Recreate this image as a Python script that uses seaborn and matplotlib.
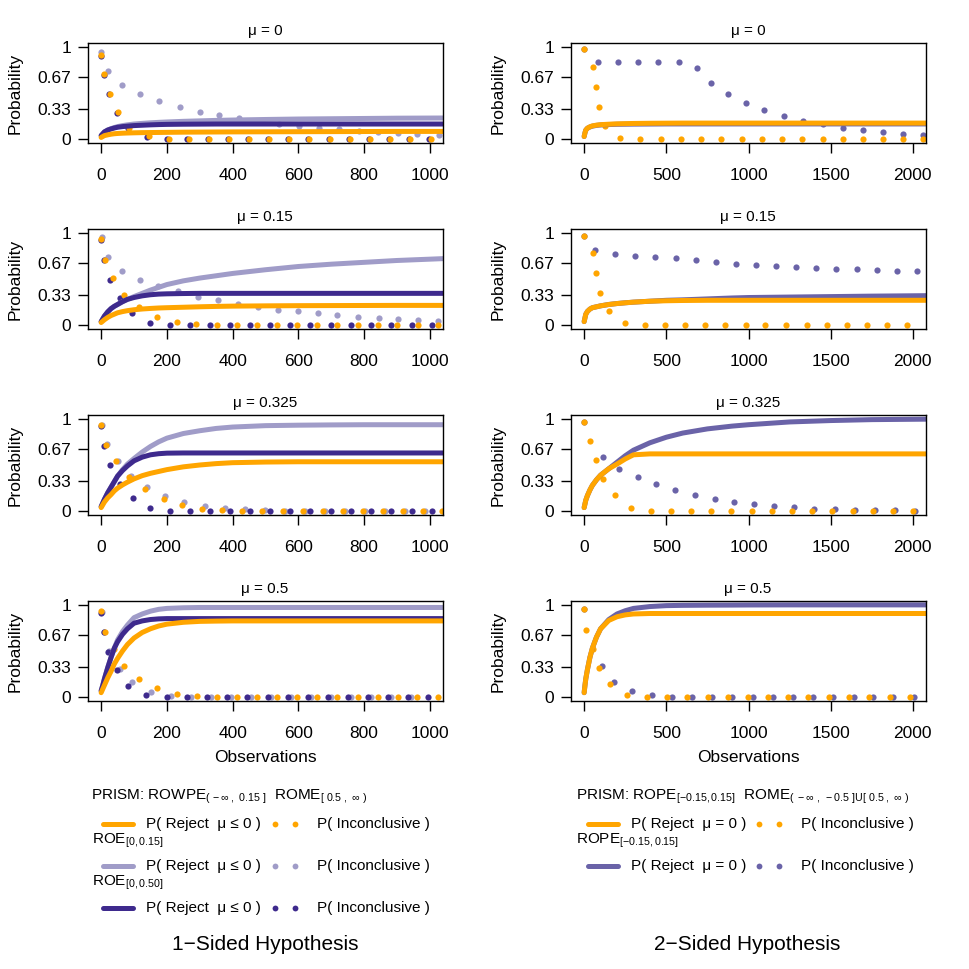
import seaborn as sns
import matplotlib
matplotlib.use("Agg")
import matplotlib.pyplot as plt
from matplotlib.lines import Line2D

W, H = 969, 969

mu_titles = ["μ = 0", "μ = 0.15", "μ = 0.325", "μ = 0.5"]
ticks_one = [0, 200, 400, 600, 800, 1000]
ticks_two = [0, 500, 1000, 1500, 2000]
ticks_y = [0, 0.33, 0.67, 1]
ticks_y_lab = ["0", "0.33", "0.67", "1"]

# ---------------- 1-sided: P( Reject ) curves ----------------
line1_x = [0, 5, 10, 20, 30, 40, 50, 65, 80, 100, 125, 150, 175, 200, 250, 300, 350, 400, 500, 600, 700, 800, 900, 1040]
one_orange_rej = [
    [0.02, 0.03, 0.04, 0.048, 0.055, 0.06, 0.063, 0.066, 0.068, 0.07, 0.072, 0.073, 0.074, 0.075,
     0.077, 0.078, 0.079, 0.08, 0.081, 0.082, 0.083, 0.084, 0.085, 0.085],
    [0.03, 0.045, 0.06, 0.085, 0.105, 0.12, 0.135, 0.148, 0.158, 0.168, 0.176, 0.182, 0.187, 0.19,
     0.195, 0.20, 0.204, 0.207, 0.21, 0.212, 0.213, 0.214, 0.215, 0.215],
    [0.04, 0.07, 0.10, 0.145, 0.18, 0.22, 0.25, 0.285, 0.315, 0.35, 0.385, 0.41, 0.43, 0.45,
     0.48, 0.50, 0.515, 0.525, 0.532, 0.535, 0.535, 0.535, 0.535, 0.535],
    [0.05, 0.09, 0.13, 0.21, 0.28, 0.36, 0.42, 0.50, 0.57, 0.64, 0.70, 0.74, 0.77, 0.79,
     0.81, 0.82, 0.823, 0.825, 0.825, 0.825, 0.825, 0.825, 0.825, 0.825],
]
one_light_rej = [
    [0.04, 0.06, 0.08, 0.10, 0.115, 0.127, 0.137, 0.148, 0.156, 0.165, 0.172, 0.178, 0.183, 0.187,
     0.194, 0.199, 0.204, 0.208, 0.214, 0.219, 0.222, 0.225, 0.228, 0.23],
    [0.04, 0.07, 0.10, 0.145, 0.18, 0.205, 0.225, 0.255, 0.28, 0.31, 0.345, 0.38, 0.41, 0.44,
     0.48, 0.51, 0.535, 0.56, 0.60, 0.635, 0.66, 0.68, 0.70, 0.72],
    [0.05, 0.09, 0.13, 0.20, 0.26, 0.32, 0.38, 0.45, 0.51, 0.57, 0.64, 0.70, 0.75, 0.79,
     0.84, 0.87, 0.895, 0.91, 0.925, 0.93, 0.933, 0.935, 0.935, 0.935],
    [0.07, 0.13, 0.20, 0.32, 0.43, 0.53, 0.62, 0.71, 0.78, 0.86, 0.90, 0.93, 0.95, 0.96,
     0.967, 0.97, 0.97, 0.97, 0.97, 0.97, 0.97, 0.97, 0.97, 0.97],
]
one_dark_rej = [
    [0.04, 0.06, 0.08, 0.10, 0.112, 0.122, 0.13, 0.137, 0.142, 0.148, 0.152, 0.156, 0.159, 0.161,
     0.163, 0.164, 0.165, 0.165, 0.165, 0.165, 0.165, 0.165, 0.165, 0.165],
    [0.04, 0.07, 0.10, 0.145, 0.18, 0.205, 0.225, 0.255, 0.28, 0.30, 0.318, 0.33, 0.337, 0.34,
     0.343, 0.345, 0.345, 0.345, 0.345, 0.345, 0.345, 0.345, 0.345, 0.345],
    [0.05, 0.09, 0.13, 0.20, 0.26, 0.32, 0.38, 0.44, 0.49, 0.545, 0.585, 0.61, 0.622, 0.628,
     0.63, 0.63, 0.63, 0.63, 0.63, 0.63, 0.63, 0.63, 0.63, 0.63],
    [0.07, 0.13, 0.20, 0.32, 0.43, 0.53, 0.60, 0.68, 0.74, 0.80, 0.825, 0.84, 0.847, 0.85,
     0.85, 0.85, 0.85, 0.85, 0.85, 0.85, 0.85, 0.85, 0.85, 0.85],
]

# ---------------- 1-sided: P( Inconclusive ) points ----------------
one_dark_inc_x = [
    [0, 10, 25, 47, 83, 139, 200, 261, 324, 385, 446, 507, 568, 628, 694, 755, 815, 876, 937, 998],
    [0, 10, 27, 56, 94, 149, 210, 271, 331, 392, 453, 514, 575, 636, 699, 760, 821, 881, 945, 1006],
    [0, 10, 27, 56, 96, 149, 210, 271, 331, 392, 453, 514, 575, 636, 699, 760, 821, 883, 945, 1006],
    [0, 8, 22, 48, 81, 137, 200, 261, 322, 383, 444, 507, 568, 628, 689, 750, 811, 872, 932, 993],
]
one_dark_inc_y = [
    [0.90, 0.69, 0.49, 0.28, 0.12, 0.02, 0, 0, 0, 0, 0, 0, 0, 0, 0, 0, 0, 0, 0, 0],
    [0.92, 0.70, 0.49, 0.30, 0.13, 0.03, 0, 0, 0, 0, 0, 0, 0, 0, 0, 0, 0, 0, 0, 0],
    [0.92, 0.70, 0.50, 0.30, 0.14, 0.04, 0, 0, 0, 0, 0, 0, 0, 0, 0, 0, 0, 0, 0, 0],
    [0.91, 0.70, 0.49, 0.29, 0.12, 0.025, 0, 0, 0, 0, 0, 0, 0, 0, 0, 0, 0, 0, 0, 0],
]
one_orange_inc_x = [
    [0, 10, 27, 51, 86, 145, 206, 267, 328, 389, 450, 511, 572, 633, 697, 758, 819, 880, 940, 1003],
    [0, 13, 35, 71, 115, 170, 230, 290, 351, 412, 473, 534, 595, 656, 719, 780, 841, 901, 965, 1026],
    [0, 15, 46, 86, 134, 190, 246, 307, 368, 429, 490, 553, 614, 675, 736, 797, 858, 919, 980, 1036],
    [0, 13, 40, 69, 115, 170, 230, 291, 351, 412, 473, 534, 595, 656, 719, 780, 841, 902, 962, 1026],
]
one_orange_inc_y = [
    [0.91, 0.70, 0.49, 0.29, 0.12, 0.04, 0, 0, 0, 0, 0, 0, 0, 0, 0, 0, 0, 0, 0, 0],
    [0.93, 0.71, 0.51, 0.33, 0.20, 0.09, 0.04, 0.01, 0, 0, 0, 0, 0, 0, 0, 0, 0, 0, 0, 0],
    [0.93, 0.72, 0.54, 0.37, 0.24, 0.13, 0.07, 0.025, 0.01, 0, 0, 0, 0, 0, 0, 0, 0, 0, 0, 0],
    [0.93, 0.71, 0.52, 0.34, 0.20, 0.10, 0.035, 0.015, 0.005, 0, 0, 0, 0, 0, 0, 0, 0, 0, 0, 0],
]
one_light_inc_x = [
    [0, 20, 64, 119, 177, 239, 300, 359, 419, 480, 541, 602, 663, 723, 784, 843, 902, 962, 1028],
    [2, 22, 64, 119, 174, 235, 296, 355, 415, 476, 537, 598, 659, 719, 780, 844, 902, 963, 1026],
    [2, 18, 50, 91, 139, 195, 253, 315, 376, 437, 498, 559, 620, 681, 742, 803, 864, 925, 986],
    [3, 10, 25, 56, 94, 152, 213, 274, 334, 395, 456, 518, 578, 639, 700, 760, 821, 882, 943],
]
one_light_inc_y = [
    [0.94, 0.74, 0.59, 0.49, 0.41, 0.35, 0.30, 0.26, 0.23, 0.20, 0.17, 0.145, 0.125, 0.11, 0.095, 0.08, 0.065, 0.055, 0.045],
    [0.95, 0.74, 0.59, 0.49, 0.42, 0.37, 0.31, 0.27, 0.23, 0.20, 0.17, 0.15, 0.13, 0.11, 0.09, 0.075, 0.07, 0.06, 0.05],
    [0.93, 0.73, 0.54, 0.38, 0.26, 0.17, 0.10, 0.06, 0.035, 0.02, 0.015, 0.007, 0.004, 0, 0, 0, 0, 0, 0],
    [0.92, 0.70, 0.50, 0.31, 0.16, 0.06, 0.015, 0.005, 0, 0, 0, 0, 0, 0, 0, 0, 0, 0, 0],
]

# ---------------- 2-sided: P( Reject ) curves ----------------
line2_x = [0, 5, 10, 20, 35, 50, 75, 100, 150, 200, 250, 300, 400, 500, 600, 750, 900, 1000, 1250, 1500, 1750, 2080]
two_orange_rej = [
    [0.03, 0.07, 0.10, 0.12, 0.135, 0.145, 0.153, 0.158, 0.163, 0.167, 0.169, 0.171,
     0.173, 0.174, 0.175, 0.175, 0.175, 0.175, 0.175, 0.175, 0.175, 0.175],
    [0.04, 0.08, 0.12, 0.15, 0.175, 0.19, 0.20, 0.21, 0.225, 0.235, 0.243, 0.25,
     0.26, 0.265, 0.268, 0.27, 0.27, 0.27, 0.27, 0.27, 0.27, 0.27],
    [0.04, 0.08, 0.12, 0.17, 0.23, 0.28, 0.34, 0.39, 0.46, 0.51, 0.565, 0.61,
     0.62, 0.62, 0.62, 0.62, 0.62, 0.62, 0.62, 0.62, 0.62, 0.62],
    [0.05, 0.13, 0.20, 0.30, 0.43, 0.53, 0.65, 0.74, 0.83, 0.87, 0.89, 0.90,
     0.905, 0.905, 0.905, 0.905, 0.905, 0.905, 0.905, 0.905, 0.905, 0.905],
]
two_purple_rej = [
    [0.03, 0.07, 0.10, 0.12, 0.133, 0.142, 0.15, 0.155, 0.159, 0.162, 0.163, 0.164,
     0.165, 0.166, 0.166, 0.166, 0.166, 0.166, 0.166, 0.166, 0.166, 0.166],
    [0.04, 0.08, 0.12, 0.15, 0.175, 0.19, 0.20, 0.21, 0.225, 0.235, 0.243, 0.25,
     0.26, 0.27, 0.275, 0.285, 0.295, 0.30, 0.305, 0.31, 0.315, 0.32],
    [0.04, 0.08, 0.12, 0.17, 0.23, 0.28, 0.34, 0.39, 0.46, 0.53, 0.60, 0.66,
     0.74, 0.80, 0.845, 0.89, 0.92, 0.935, 0.965, 0.98, 0.99, 0.995],
    [0.05, 0.13, 0.20, 0.30, 0.43, 0.53, 0.65, 0.74, 0.84, 0.90, 0.935, 0.96,
     0.98, 0.99, 0.993, 0.995, 0.996, 0.997, 0.998, 0.998, 0.998, 0.998],
]

# ---------------- 2-sided: P( Inconclusive ) points ----------------
two_orange_inc_x = [
    [0, 53, 71, 91, 128, 219, 341, 465, 589, 713, 835, 959, 1081, 1204, 1326, 1452, 1573, 1695, 1817, 1939, 2064],
    [0, 51, 71, 97, 152, 248, 370, 491, 615, 737, 859, 985, 1103, 1228, 1354, 1476, 1598, 1722, 1844, 1966],
    [0, 35, 71, 116, 187, 284, 406, 528, 650, 772, 893, 1019, 1141, 1263, 1385, 1509, 1634, 1756, 1878, 2000],
    [0, 14, 51, 91, 156, 258, 382, 504, 625, 751, 873, 995, 1117, 1243, 1364, 1488, 1610, 1736, 1858, 1980],
]
two_orange_inc_y = [
    [0.97, 0.78, 0.56, 0.35, 0.14, 0.01, 0, 0, 0, 0, 0, 0, 0, 0, 0, 0, 0, 0, 0, 0, 0],
    [0.96, 0.78, 0.56, 0.35, 0.15, 0.03, 0, 0, 0, 0, 0, 0, 0, 0, 0, 0, 0, 0, 0, 0],
    [0.96, 0.76, 0.55, 0.35, 0.175, 0.04, 0, 0, 0, 0, 0, 0, 0, 0, 0, 0, 0, 0, 0, 0],
    [0.95, 0.73, 0.525, 0.32, 0.14, 0.03, 0.007, 0, 0, 0, 0, 0, 0, 0, 0, 0, 0, 0, 0, 0],
]
two_purple_inc_x = [
    [0, 85, 207, 329, 451, 575, 688, 771, 873, 983, 1096, 1214, 1332, 1452, 1573, 1695, 1817, 1939, 2060],
    [0, 67, 189, 311, 432, 558, 680, 802, 924, 1046, 1168, 1289, 1411, 1533, 1659, 1781, 1905, 2026],
    [0, 116, 213, 325, 437, 554, 674, 796, 914, 1036, 1157, 1279, 1401, 1529, 1651, 1772, 1894, 2016],
    [0, 108, 183, 290, 412, 532, 654, 778, 900, 1025, 1147, 1269, 1391, 1517, 1639, 1760, 1882, 2004],
]
two_purple_inc_y = [
    [0.97, 0.84, 0.83, 0.83, 0.83, 0.83, 0.77, 0.61, 0.49, 0.39, 0.315, 0.255, 0.20, 0.16, 0.125, 0.10, 0.08, 0.06, 0.045],
    [0.96, 0.81, 0.77, 0.75, 0.74, 0.725, 0.71, 0.68, 0.66, 0.65, 0.64, 0.63, 0.62, 0.61, 0.61, 0.60, 0.59, 0.585],
    [0.96, 0.59, 0.46, 0.37, 0.30, 0.23, 0.175, 0.13, 0.10, 0.08, 0.055, 0.043, 0.03, 0.025, 0.018, 0.014, 0.01, 0.007],
    [0.95, 0.34, 0.17, 0.07, 0.025, 0.007, 0, 0, 0, 0, 0, 0, 0, 0, 0, 0, 0, 0],
]

ORANGE = "#FFA500"
LIGHT = "#A09CC8"
DARK = "#3E2A8D"
MID = "#6A63A8"
LW = 3.6
DOT = 20

sns.set_style("ticks")
plt.rcParams["font.family"] = ["Liberation Sans", "DejaVu Sans"]
plt.rcParams["mathtext.fontset"] = "custom"
plt.rcParams["mathtext.rm"] = "Liberation Sans"
plt.rcParams["mathtext.it"] = "Liberation Sans:italic"
plt.rcParams["mathtext.bf"] = "Liberation Sans:bold"
plt.rcParams["text.color"] = "black"
plt.rcParams["xtick.color"] = "black"
plt.rcParams["ytick.color"] = "black"
plt.rcParams["xtick.labelcolor"] = "black"
plt.rcParams["ytick.labelcolor"] = "black"

fig = plt.figure(figsize=(W / 100, H / 100), dpi=100)


def fx(px):
    return px / W


def fy(py):
    return 1 - py / H


def style_axes(ax, xlim, xticks, top, left, title):
    ax.set_xlim(*xlim)
    ax.set_ylim(-0.04, 1.04)
    ax.set_xticks(xticks)
    ax.set_xticklabels([str(t) for t in xticks])
    ax.set_yticks(ticks_y)
    ax.set_yticklabels(ticks_y_lab)
    ax.tick_params(axis="both", direction="out", length=7, width=1.0, labelsize=12.5,
                   color="black", labelcolor="black")
    ax.tick_params(axis="x", pad=11)
    ax.tick_params(axis="y", pad=5)
    for sp in ax.spines.values():
        sp.set_visible(True)
        sp.set_linewidth(1.0)
        sp.set_color("black")
    ax.set_xlabel("")
    ax.set_ylabel("")
    fig.text(fx(left + 177), fy(top - 12), title, ha="center", va="center", fontsize=11)
    fig.text(fx(left - 73), fy(top + 50), "Probability", rotation=90, ha="center", va="center", fontsize=12.5)


tops = [43, 229, 415, 601]
for i in range(4):
    top = tops[i]
    # 1-sided panel
    ax = fig.add_axes([fx(88), fy(top + 100), fx(355), 100 / H])
    sns.scatterplot(x=one_light_inc_x[i], y=one_light_inc_y[i], color=LIGHT, s=DOT, linewidth=0, ax=ax)
    sns.scatterplot(x=one_dark_inc_x[i], y=one_dark_inc_y[i], color=DARK, s=DOT, linewidth=0, ax=ax)
    sns.scatterplot(x=one_orange_inc_x[i], y=one_orange_inc_y[i], color=ORANGE, s=DOT, linewidth=0, ax=ax)
    sns.lineplot(x=line1_x, y=one_light_rej[i], color=LIGHT, lw=LW, estimator=None, ax=ax, solid_capstyle="round")
    sns.lineplot(x=line1_x, y=one_dark_rej[i], color=DARK, lw=LW, estimator=None, ax=ax, solid_capstyle="round")
    sns.lineplot(x=line1_x, y=one_orange_rej[i], color=ORANGE, lw=LW, estimator=None, ax=ax, solid_capstyle="round")
    style_axes(ax, (-40, 1040), ticks_one, top, 88, mu_titles[i])

    # 2-sided panel
    ax = fig.add_axes([fx(571), fy(top + 100), fx(355), 100 / H])
    sns.scatterplot(x=two_purple_inc_x[i], y=two_purple_inc_y[i], color=MID, s=DOT, linewidth=0, ax=ax)
    sns.scatterplot(x=two_orange_inc_x[i], y=two_orange_inc_y[i], color=ORANGE, s=DOT, linewidth=0, ax=ax)
    sns.lineplot(x=line2_x, y=two_purple_rej[i], color=MID, lw=LW, estimator=None, ax=ax, solid_capstyle="round")
    sns.lineplot(x=line2_x, y=two_orange_rej[i], color=ORANGE, lw=LW, estimator=None, ax=ax, solid_capstyle="round")
    style_axes(ax, (-80, 2080), ticks_two, top, 571, mu_titles[i])

fig.text(fx(265), fy(757), "Observations", ha="center", va="center", fontsize=12.5)
fig.text(fx(748), fy(757), "Observations", ha="center", va="center", fontsize=12.5)

# ---------------- legends ----------------
LEG = 11


def legend_row(y, x_line, x_txt, x_dots, x_txt2, color, label):
    fig.add_artist(Line2D([fx(x_line), fx(x_line + 30)], [fy(y), fy(y)], transform=fig.transFigure,
                          color=color, lw=LW, solid_capstyle="round"))
    fig.text(fx(x_txt), fy(y), label, ha="left", va="center", fontsize=LEG)
    fig.add_artist(Line2D([fx(x_dots), fx(x_dots + 20)], [fy(y), fy(y)], transform=fig.transFigure,
                          color=color, ls="", marker="o", ms=4.2, mew=0))
    fig.text(fx(x_txt2), fy(y), "P( Inconclusive )", ha="left", va="center", fontsize=LEG)


fig.text(fx(91), fy(797), r"PRISM: ROWPE$_{(\,-\infty\ ,\ 0.15\ ]}$  ROME$_{[\ 0.5\ ,\ \infty\ )}$",
         ha="left", va="center", fontsize=LEG)
legend_row(824, 103, 146, 275, 317, ORANGE, "P( Reject  μ ≤ 0 )")
fig.text(fx(92), fy(841), r"ROE$_{[0,0.15]}$", ha="left", va="center", fontsize=LEG)
legend_row(866, 103, 146, 275, 317, LIGHT, "P( Reject  μ ≤ 0 )")
fig.text(fx(92), fy(883), r"ROE$_{[0,0.50]}$", ha="left", va="center", fontsize=LEG)
legend_row(908, 103, 146, 275, 317, DARK, "P( Reject  μ ≤ 0 )")

fig.text(fx(576), fy(797),
         r"PRISM: ROPE$_{[-0.15,0.15]}$  ROME$_{(\ -\infty\ ,\ -0.5\ ]\mathrm{U}[\ 0.5\ ,\ \infty\ )}$",
         ha="left", va="center", fontsize=LEG)
legend_row(824, 588, 631, 759, 801, ORANGE, "P( Reject  μ = 0 )")
fig.text(fx(576), fy(841), r"ROPE$_{[-0.15,0.15]}$", ha="left", va="center", fontsize=LEG)
legend_row(866, 588, 631, 759, 801, MID, "P( Reject  μ = 0 )")

fig.text(fx(265), fy(945), "1\u2212Sided Hypothesis", ha="center", va="center", fontsize=15)
fig.text(fx(747), fy(945), "2\u2212Sided Hypothesis", ha="center", va="center", fontsize=15)

fig.savefig("out.png", dpi=100)
